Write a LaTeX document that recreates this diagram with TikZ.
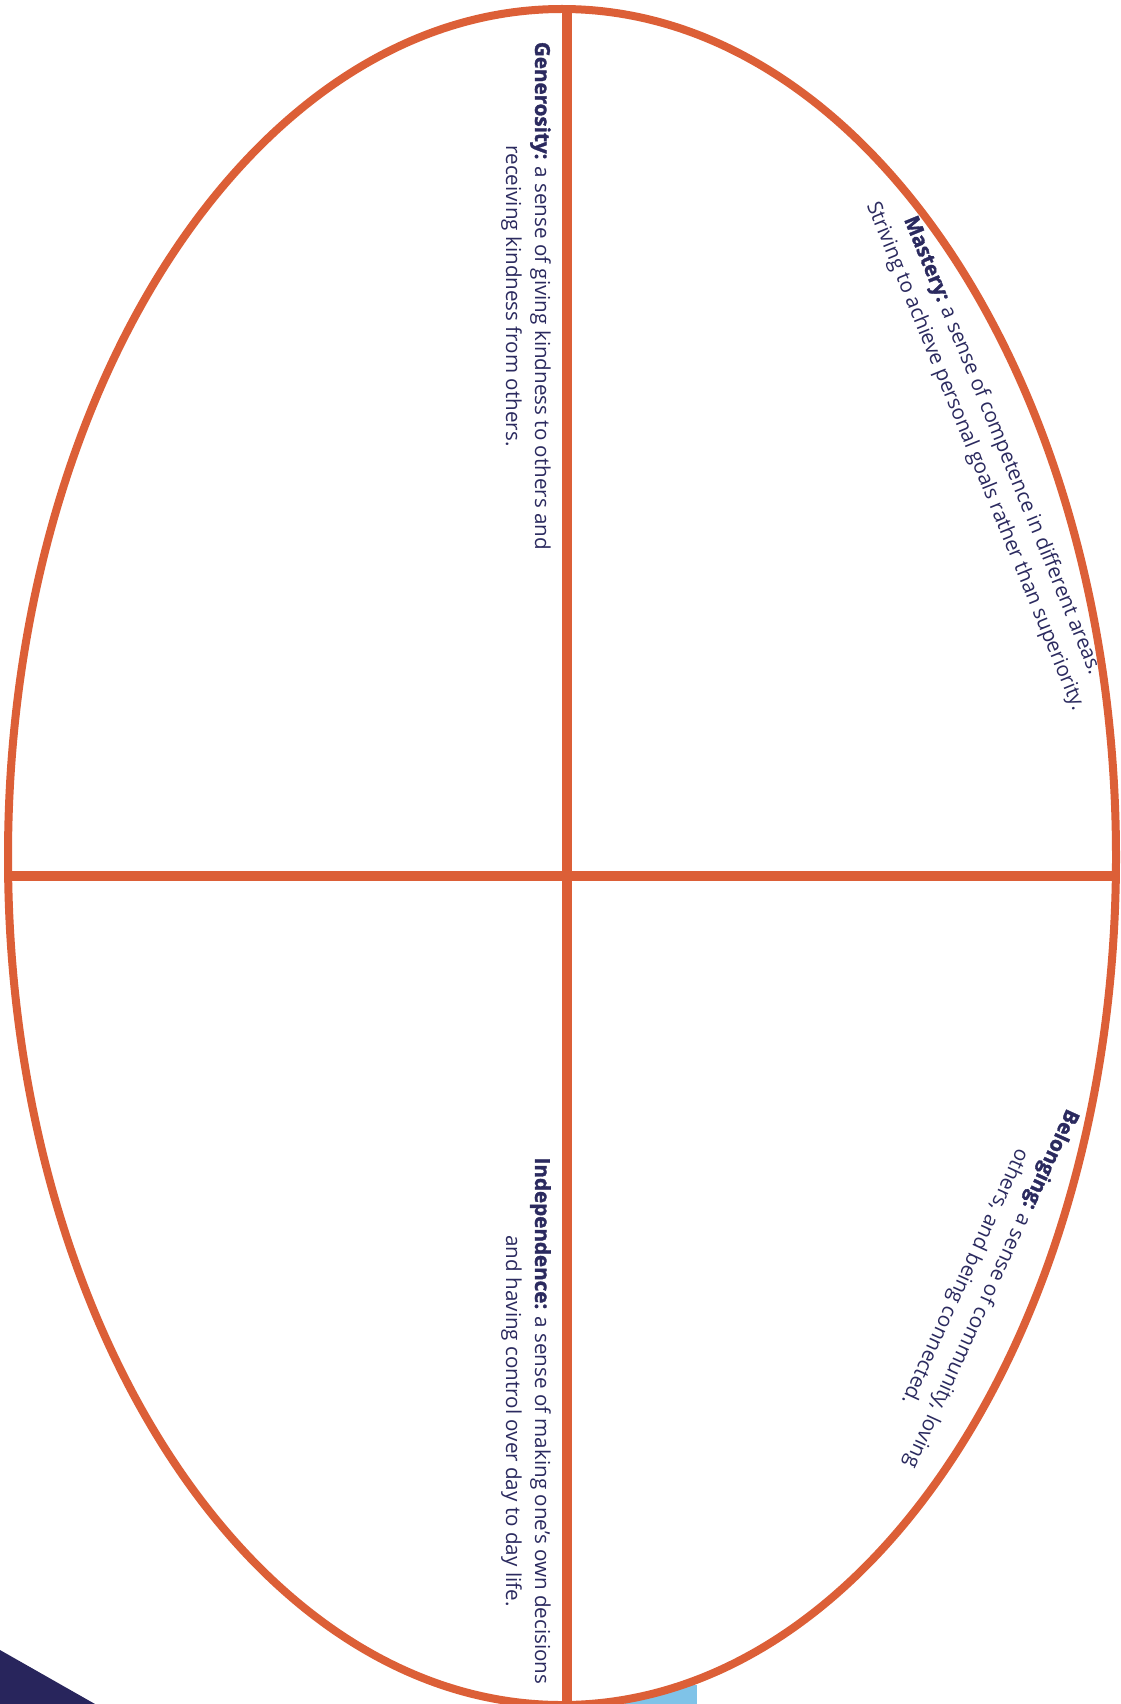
\documentclass[tikz,border=0pt]{standalone}
\usepackage{fontspec}
\setmainfont{Open Sans}[BoldFeatures={FakeBold=1.6}]
\definecolor{eggorange}{HTML}{DC5F37}
\definecolor{navytext}{HTML}{2B2A5F}
\definecolor{navytri}{HTML}{28255C}
\definecolor{skyblue}{HTML}{7FC3E8}
\begin{document}
\begin{tikzpicture}[x=1pt,y=-1pt,
  lbl/.style={text=navytext,align=center,font=\fontsize{20.6}{29}\selectfont,inner sep=0pt},
  cross/.style={draw=eggorange,line width=10pt},
  rim/.style={draw=eggorange,line width=8pt}]
\useasboundingbox (0,0) rectangle (1120,1704);
% background accents
\fill[navytri] (0,1650) -- (95,1704) -- (0,1704) -- cycle;
\fill[skyblue] (625,1685) rectangle (697,1704);
% egg
\fill[white] (562,857) ellipse [x radius=554pt, y radius=848pt];
\begin{scope}
  \clip (562,857) ellipse [x radius=554pt, y radius=848pt];
  \coordinate (vtop) at (566.5,0);
  \coordinate (vbot) at (566.5,1704);
  \coordinate (hl) at (0,876);
  \coordinate (hr) at (1120,876);
  \draw[cross] (vtop) -- (vbot);
  \draw[cross] (hl) -- (hr);
\end{scope}
\draw[rim] (562,857) ellipse [x radius=554pt, y radius=848pt];
% labels
\node[lbl,rotate=-90] (gen) at (526,296) {{\bfseries Generosity:} a sense of giving kindness to others and\\receiving kindness from others.};
\node[lbl,rotate=-90] (ind) at (526,1421) {{\bfseries Independence:} a sense of making one’s own decisions\\and having control over day to day life.};
\node[lbl,rotate=-67.8] (mas) at (988.5,451) {{\bfseries Mastery:} a sense of competence in different areas.\\Striving to achieve personal goals rather than superiority.};
\node[lbl,rotate=-114.5] (bel) at (977.5,1282.5) {{\bfseries Belonging:} a sense of community, loving\\others, and being connected.};
\end{tikzpicture}
\end{document}
